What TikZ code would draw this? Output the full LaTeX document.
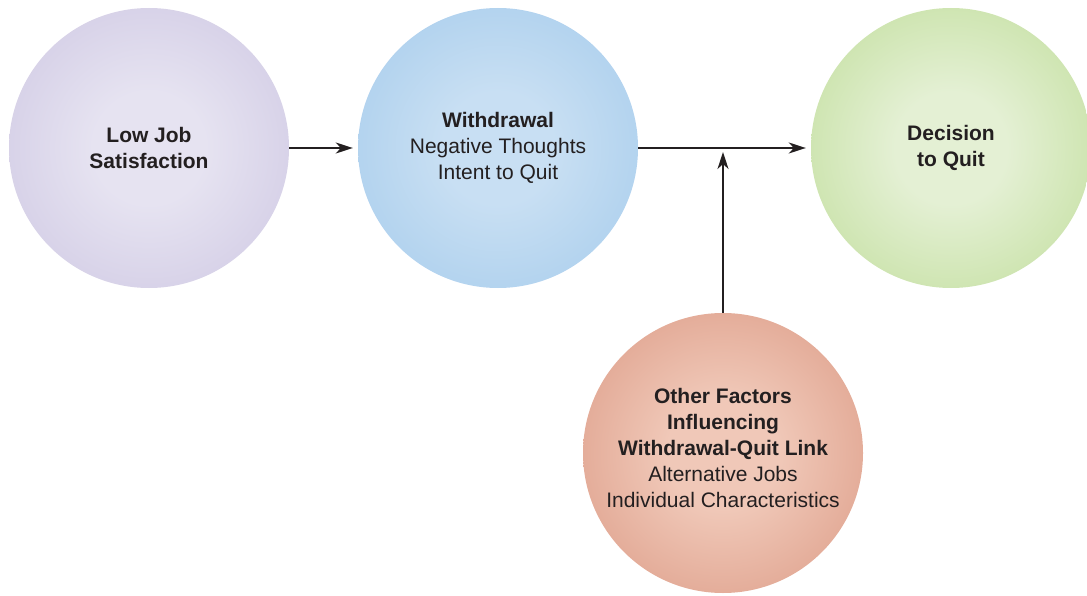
\documentclass[tikz,border=0pt]{standalone}
\usepackage{fontspec}
\setmainfont{Liberation Sans}
\usetikzlibrary{arrows.meta}
\definecolor{ink}{HTML}{231F20}
\definecolor{lowin}{RGB}{230,227,241}
\definecolor{lowout}{RGB}{192,183,218}
\definecolor{wdin}{RGB}{200,223,243}
\definecolor{wdout}{RGB}{145,192,231}
\definecolor{quitin}{RGB}{228,240,212}
\definecolor{quitout}{RGB}{172,211,122}
\definecolor{otherin}{RGB}{240,200,184}
\definecolor{otherout}{RGB}{208,128,104}
\pgfdeclareradialshading{lowshade}{\pgfpoint{0bp}{0bp}}{color(0bp)=(lowin); color(10bp)=(lowin); color(50bp)=(lowout)}
\pgfdeclareradialshading{wdshade}{\pgfpoint{0bp}{0bp}}{color(0bp)=(wdin); color(10bp)=(wdin); color(50bp)=(wdout)}
\pgfdeclareradialshading{quitshade}{\pgfpoint{0bp}{0bp}}{color(0bp)=(quitin); color(10bp)=(quitin); color(50bp)=(quitout)}
\pgfdeclareradialshading{othershade}{\pgfpoint{0bp}{0bp}}{color(0bp)=(otherin); color(10bp)=(otherin); color(50bp)=(otherout)}
\tikzset{
  ball/.style={circle, minimum size=280pt, inner sep=0pt, align=center, text=ink,
    font=\fontsize{21}{26}\selectfont, shading=#1},
  link/.style={->, line width=1.8pt, draw=ink},
}
\begin{document}
\begin{tikzpicture}[x=1pt, y=1pt, >={Stealth[length=17pt, width=11pt, inset=5pt]}]
  \useasboundingbox (0,0) rectangle (1087,-596);
  \path
    (149,-148) coordinate (L)
    (498,-148) coordinate (W)
    (951,-148) coordinate (D)
    (723,-453) coordinate (F)
    ;
  \node[ball=lowshade] (low) at (L) {\textbf{Low Job}\\\textbf{Satisfaction}};
  \node[ball=wdshade] (withdraw) at (W) {\textbf{Withdrawal}\\Negative Thoughts\\Intent to Quit};
  \node[ball=quitshade] (decide) at (D) {\textbf{Decision}\\\textbf{to Quit}};
  % extra depth lifts the text a little above the centre
  \node[ball=othershade] (other) at (F) {\textbf{Other Factors}\\\textbf{Influencing}\\\textbf{Withdrawal-Quit Link}\\Alternative Jobs\\Individual Characteristics\rule[-10pt]{0pt}{10pt}};
  \coordinate (join) at ([yshift=-4pt]withdraw.east -| other.north);
  \draw[link, shorten >=5pt] (low) -- (withdraw);
  \draw[link, shorten >=5pt] (withdraw) -- (decide);
  \draw[link] (other) -- (join);
\end{tikzpicture}
\end{document}
